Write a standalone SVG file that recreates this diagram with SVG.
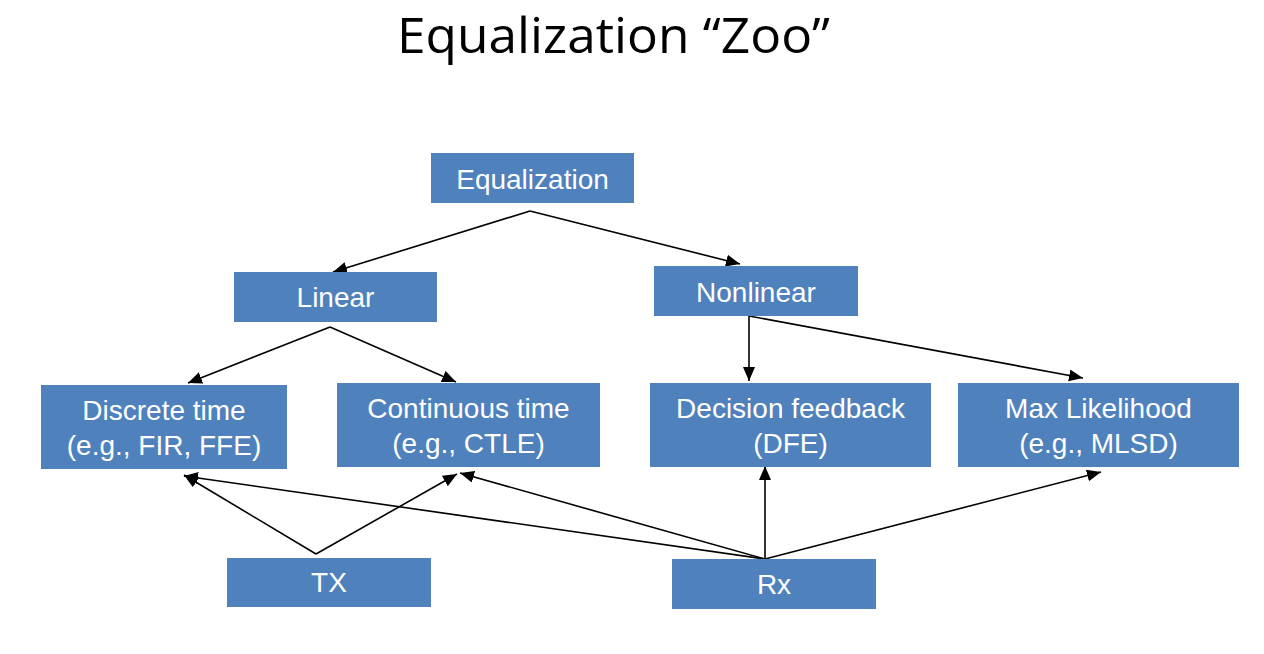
<svg xmlns="http://www.w3.org/2000/svg" width="1264" height="654" viewBox="0 0 1264 654">
<style>
.box{fill:#4F81BD}
.lbl{font-family:"Liberation Sans",Arial,sans-serif;font-size:28px;fill:#ffffff;text-anchor:middle}
.title{font-family:"Open Sans","Noto Sans",sans-serif;font-size:50px;fill:#000000}
.edge{stroke:#000;stroke-width:1.6;fill:none;marker-end:url(#ah)}
</style>
<defs>
<marker id="ah" markerUnits="userSpaceOnUse" markerWidth="15" markerHeight="13" refX="14" refY="6" orient="auto">
<path d="M0,0 L14,6 L0,12 z" fill="#000"/>
</marker>
</defs>
<rect width="1264" height="654" fill="#fff"/>
<text class="title" x="397" y="53" textLength="433" lengthAdjust="spacingAndGlyphs">Equalization “Zoo”</text>
<g id="connectors">
<line class="edge" x1="530" y1="211" x2="333" y2="272"/>
<line class="edge" x1="530" y1="211" x2="740" y2="264"/>
<line class="edge" x1="330" y1="327" x2="188" y2="383"/>
<line class="edge" x1="330" y1="327" x2="456" y2="382"/>
<line class="edge" x1="749" y1="316" x2="749" y2="381"/>
<line class="edge" x1="749" y1="316" x2="1083" y2="378"/>
<line class="edge" x1="316" y1="554" x2="184" y2="475"/>
<line class="edge" x1="316" y1="554" x2="457" y2="474"/>
<line class="edge" x1="765" y1="559" x2="184" y2="476"/>
<line class="edge" x1="765" y1="559" x2="460" y2="473"/>
<line class="edge" x1="765" y1="559" x2="765" y2="466"/>
<line class="edge" x1="765" y1="559" x2="1101" y2="472"/>
</g>
<g id="equalization"><rect class="box" x="431" y="153" width="203" height="50"/><text class="lbl" x="532.5" y="189">Equalization</text></g>
<g id="linear"><rect class="box" x="234" y="272" width="203" height="50"/><text class="lbl" x="335.5" y="307">Linear</text></g>
<g id="nonlinear"><rect class="box" x="654" y="266" width="204" height="50"/><text class="lbl" x="756" y="302">Nonlinear</text></g>
<g id="discrete"><rect class="box" x="41" y="385" width="246" height="84"/><text class="lbl" x="164" y="420">Discrete time</text><text class="lbl" x="164" y="455">(e.g., FIR, FFE)</text></g>
<g id="continuous"><rect class="box" x="337" y="383" width="263" height="84"/><text class="lbl" x="468.5" y="418">Continuous time</text><text class="lbl" x="468.5" y="453">(e.g., CTLE)</text></g>
<g id="decision"><rect class="box" x="650" y="383" width="281" height="84"/><text class="lbl" x="790.5" y="418">Decision feedback</text><text class="lbl" x="790.5" y="453">(DFE)</text></g>
<g id="maxlikelihood"><rect class="box" x="958" y="383" width="281" height="84"/><text class="lbl" x="1098.5" y="418">Max Likelihood</text><text class="lbl" x="1098.5" y="453">(e.g., MLSD)</text></g>
<g id="tx"><rect class="box" x="227" y="558" width="204" height="49"/><text class="lbl" x="329" y="592">TX</text></g>
<g id="rx"><rect class="box" x="672" y="559" width="204" height="50"/><text class="lbl" x="774" y="594">Rx</text></g>
</svg>
